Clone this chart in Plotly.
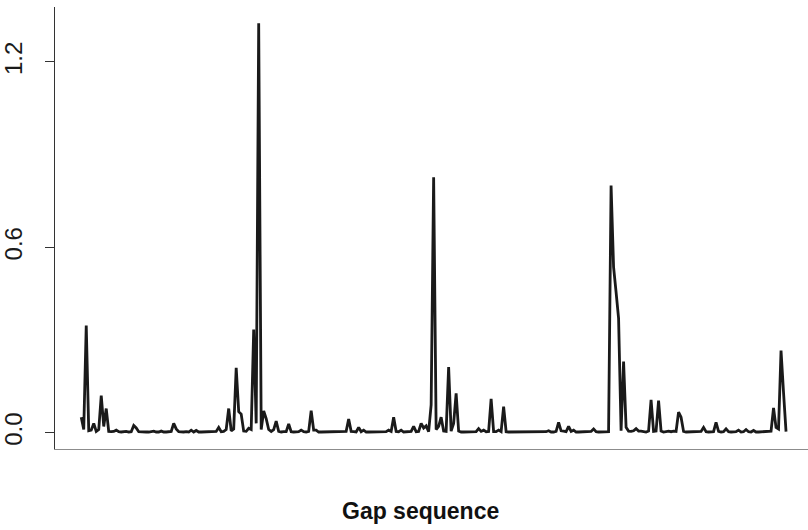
import plotly.graph_objects as go

# Gap values, one per sequence position
gap_values = [
    0.05, 0.01, 0.347, 0.006, 0.008, 0.03, 0.004, 0.01, 0.12, 0.02,
    0.078, 0.004, 0.003, 0.004, 0.008, 0.003, 0.002, 0.003, 0.004, 0.002,
    0.003, 0.023, 0.015, 0.003, 0.002, 0.003, 0.002, 0.002, 0.003, 0.005,
    0.002, 0.002, 0.005, 0.002, 0.002, 0.003, 0.004, 0.03, 0.012, 0.003,
    0.002, 0.002, 0.003, 0.002, 0.008, 0.002, 0.007, 0.002, 0.002, 0.002,
    0.002, 0.003, 0.002, 0.002, 0.004, 0.017, 0.003, 0.004, 0.01, 0.078,
    0.006, 0.012, 0.21, 0.068, 0.06, 0.005, 0.004, 0.014, 0.01, 0.334,
    0.03, 1.325, 0.01, 0.07, 0.045, 0.01, 0.004, 0.01, 0.037, 0.004,
    0.002, 0.003, 0.003, 0.028, 0.003, 0.002, 0.002, 0.003, 0.008, 0.003,
    0.002, 0.004, 0.071, 0.008, 0.008, 0.002, 0.002, 0.002, 0.003, 0.002,
    0.002, 0.003, 0.004, 0.002, 0.002, 0.003, 0.004, 0.044, 0.004, 0.003,
    0.002, 0.017, 0.003, 0.008, 0.002, 0.002, 0.002, 0.003, 0.002, 0.002,
    0.002, 0.002, 0.003, 0.008, 0.004, 0.05, 0.004, 0.003, 0.008, 0.002,
    0.002, 0.003, 0.004, 0.02, 0.003, 0.004, 0.03, 0.015, 0.022, 0.003,
    0.09, 0.827, 0.01, 0.02, 0.05, 0.005, 0.004, 0.212, 0.005, 0.03,
    0.127, 0.005, 0.002, 0.002, 0.002, 0.003, 0.002, 0.002, 0.003, 0.013,
    0.004, 0.008, 0.003, 0.004, 0.109, 0.003, 0.003, 0.008, 0.003, 0.084,
    0.003, 0.002, 0.002, 0.002, 0.002, 0.002, 0.002, 0.002, 0.002, 0.002,
    0.003, 0.002, 0.002, 0.002, 0.002, 0.002, 0.003, 0.006, 0.002, 0.002,
    0.004, 0.033, 0.006, 0.005, 0.003, 0.02, 0.004, 0.008, 0.002, 0.002,
    0.002, 0.002, 0.003, 0.002, 0.004, 0.012, 0.003, 0.002, 0.002, 0.002,
    0.002, 0.003, 0.80, 0.536, 0.455, 0.37, 0.006, 0.23, 0.017, 0.005,
    0.004, 0.006, 0.013, 0.005, 0.005, 0.003, 0.002, 0.005, 0.106, 0.004,
    0.005, 0.104, 0.005, 0.002, 0.003, 0.005, 0.003, 0.005, 0.004, 0.066,
    0.05, 0.004, 0.002, 0.002, 0.002, 0.002, 0.002, 0.003, 0.004, 0.017,
    0.003, 0.002, 0.002, 0.003, 0.033, 0.004, 0.002, 0.003, 0.012, 0.003,
    0.002, 0.002, 0.003, 0.008, 0.002, 0.003, 0.01, 0.003, 0.002, 0.007,
    0.002, 0.002, 0.003, 0.002, 0.003, 0.004, 0.005, 0.08, 0.017, 0.012,
    0.266, 0.13, 0.003,
]
positions = list(range(1, len(gap_values) + 1))

y_tick_values = [0.0, 0.6, 1.2]
y_tick_labels = ["0.0", "0.6", "1.2"]
x_title = "Gap sequence"

FONT = "Liberation Sans, Arial, Helvetica, sans-serif"

fig = go.Figure()
fig.add_trace(go.Scatter(
    x=positions, y=gap_values, mode="lines",
    line=dict(color="#1a1a1a", width=2.8),
    hoverinfo="skip", showlegend=False,
))

fig.update_layout(
    width=808, height=530,
    margin=dict(l=52, r=0, t=7, b=81),
    paper_bgcolor="white", plot_bgcolor="white",
    font=dict(family=FONT, color="#222222"),
    xaxis=dict(
        range=[1 - 10.5, 1 + 290.79],
        showgrid=False, zeroline=False, showticklabels=False, ticks="",
        showline=True, linecolor="#8c8c8c", linewidth=1.2,
    ),
    yaxis=dict(
        range=[-0.053, 1.378],
        tickvals=y_tick_values, ticktext=y_tick_labels,
        tickangle=-90, tickfont=dict(size=24, family=FONT, color="#1a1a1a"),
        ticks="outside", ticklen=9, tickcolor="#333333", tickwidth=1,
        ticklabelstandoff=13,
        showgrid=False, zeroline=False,
        showline=True, linecolor="#333333", linewidth=1,
    ),
    annotations=[dict(
        text="<b>" + x_title + "</b>", xref="paper", yref="paper",
        x=0.4854, y=-0.1403, xanchor="center", yanchor="middle",
        showarrow=False, font=dict(size=23, family=FONT, color="#111111"),
    )],
)

fig.write_html(
    "out.html",
    config={"displayModeBar": False},
    post_script="document.body.style.margin='0';document.body.style.overflow='hidden';",
)
